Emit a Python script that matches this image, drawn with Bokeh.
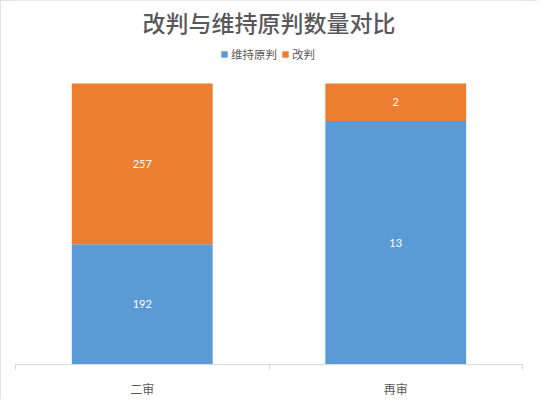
from bokeh.plotting import figure
from bokeh.models import (ColumnDataSource, FixedTicker, Legend, LegendItem,
                          Range1d, LabelSet, Label)
from bokeh.core.properties import value
from bokeh.embed import file_html
from bokeh.resources import INLINE

# ---- data ----
categories = ["二审", "再审"]
series_names = ["维持原判", "改判"]
upheld = [192, 13]
reversed_ = [257, 2]
title_text = "改判与维持原判数量对比"

BLUE = "#5B9BD5"
ORANGE = "#ED7D31"
GRAY = "#595959"
FONT = "Noto Sans CJK SC"
TITLE_FONT = "Noto Sans CJK SC Medium, Noto Sans CJK SC"
NUM_FONT = "Lato"

W, H = 537, 399
FRAME_BOTTOM = 367      # px from top
BAR_TOP = 83.6          # px from top where 100% lies
PX = FRAME_BOTTOM - BAR_TOP

xs = [i + 0.5 for i in range(len(categories))]
totals = [a + b for a, b in zip(upheld, reversed_)]
up_frac = [a / t for a, t in zip(upheld, totals)]
top_all = [1.0 for _ in totals]

src = ColumnDataSource(dict(
    x=xs,
    up=up_frac,
    top=top_all,
    up_mid=[f / 2 for f in up_frac],
    rv_mid=[(f + 1) / 2 for f in up_frac],
    up_txt=[str(v) for v in upheld],
    rv_txt=[str(v) for v in reversed_],
))

p = figure(width=W, height=H, output_backend="svg", toolbar_location=None,
           x_range=Range1d(0, len(categories)),
           y_range=Range1d(0, FRAME_BOTTOM / PX),
           min_border_left=15, min_border_right=15,
           min_border_bottom=H - FRAME_BOTTOM,
           min_border_top=0, title=None,
           styles={"outline": "1px solid #d9d9d9", "outline-offset": "-1px"})
p.outline_line_color = None
p.background_fill_color = "white"
p.border_fill_color = "white"
p.grid.visible = False
p.yaxis.visible = False

bw = 145 / 261
r_up = p.vbar(x="x", bottom=0, top="up", width=bw, source=src,
              fill_color=BLUE, line_color=None)
r_rv = p.vbar(x="x", bottom="up", top="top", width=bw, source=src,
              fill_color=ORANGE, line_color=None)

for ycol, tcol in (("up_mid", "up_txt"), ("rv_mid", "rv_txt")):
    p.add_layout(LabelSet(x="x", y=ycol, text=tcol, source=src,
                          text_align="center", text_baseline="middle",
                          text_color="white", text_font_size=value("11px"),
                          text_font=value(NUM_FONT)))

ax = p.xaxis[0]
ax.ticker = FixedTicker(ticks=xs, minor_ticks=list(range(len(categories) + 1)))
ax.major_label_overrides = {x: c for x, c in zip(xs, categories)}
ax.major_tick_line_color = None
ax.major_tick_out = 0
ax.major_tick_in = 0
ax.minor_tick_line_color = "#d9d9d9"
ax.minor_tick_out = 5
ax.minor_tick_in = 0
ax.axis_line_color = "#d9d9d9"
ax.major_label_text_color = GRAY
ax.major_label_text_font = FONT
ax.major_label_text_font_size = "12px"
ax.major_label_standoff = 10

p.add_layout(Label(x=len(categories) / 2, y=(FRAME_BOTTOM - 21.5) / PX,
                   text=title_text,
                   text_align="center", text_baseline="middle",
                   text_font=TITLE_FONT, text_font_size="23px",
                   text_font_style="normal", text_color=GRAY))

legend = Legend(items=[LegendItem(label=series_names[0], renderers=[r_up]),
                       LegendItem(label=series_names[1], renderers=[r_rv])],
                orientation="horizontal", location=(205, 302),
                glyph_width=8, glyph_height=8, label_standoff=3, spacing=4,
                padding=0, margin=0, border_line_color=None,
                background_fill_alpha=0,
                label_text_font=FONT, label_text_font_size="11.5px",
                label_text_color=GRAY)
p.add_layout(legend, "center")

open("out.html", "w").write(file_html(p, INLINE))
